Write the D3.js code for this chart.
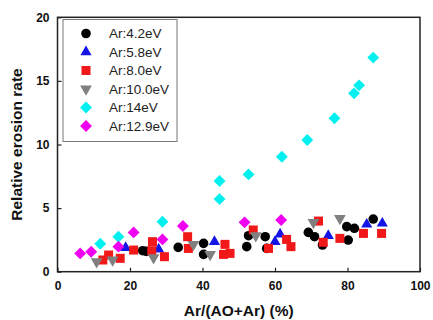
<!DOCTYPE html>
<html><head><meta charset="utf-8">
<script src="https://cdn.jsdelivr.net/npm/d3@7"></script>
<style>body{margin:0;background:#fff}svg{display:block}text{font-family:Arial,"Liberation Sans",sans-serif}</style>
</head><body><svg id="c" width="433" height="320"></svg>
<script>
const seriesNames = ["Ar:4.2eV","Ar:5.8eV","Ar:8.0eV","Ar:10.0eV","Ar:14eV","Ar:12.9eV"];
const xTicks = [0,20,40,60,80,100];
const yTicks = [0,5,10,15,20];
const s42x = [23.5,24.5,33.3,40.3,40.3,52.2,52.7,57.3,57.7,69.2,70.9,73.1,79.8,81.9,80.2,87.1];
const s42y = [1.65,1.6,1.91,2.23,1.36,1.97,2.83,2.75,1.83,3.09,2.75,2.1,3.54,3.41,2.49,4.14];
const s58x = [18.8,27.9,43.3,60.0,61.4,74.7,85.3,89.6];
const s58y = [1.89,1.76,2.36,2.36,2.94,2.83,3.72,3.8];
const s80x = [12.5,14.1,17.3,21.0,26.2,26.0,29.5,35.9,36.1,45.8,46.2,47.6,54.0,58.2,63.2,64.4,72.0,73.3,77.9,84.4,89.4];
const s80y = [0.92,1.31,1.05,1.7,2.36,1.65,1.18,2.75,1.83,1.36,2.15,1.44,3.28,1.83,2.54,1.97,3.98,2.31,2.62,3.01,3.01];
const s100x = [10.8,15.2,26.5,37.5,42.1,54.7,70.6,77.9];
const s100y = [0.79,0.92,1.1,2.15,1.36,2.83,3.88,4.19];
const s14x = [11.8,16.8,28.95,44.7,44.7,52.7,61.9,68.9,76.4,81.8,83.2,87.1];
const s14y = [2.2,2.75,3.93,7.13,5.71,7.65,9.04,10.35,12.06,14.02,14.65,16.83];
const s129x = [6.25,9.3,16.8,21.0,28.95,34.6,51.6,61.7];
const s129y = [1.44,1.57,1.97,3.09,2.54,3.59,3.88,4.06];

const colors = ["#000000","#1414e6","#f01818","#808080","#00f0f0","#f000f0"];
const allX = [s42x,s58x,s80x,s100x,s14x,s129x];
const allY = [s42y,s58y,s80y,s100y,s14y,s129y];

const svg = d3.select("#c");
const L=57.5,R=420,T=17.3,B=271.7;
const x = d3.scaleLinear().domain([0,100]).range([L,R]);
const y = d3.scaleLinear().domain([0,20]).range([B,T]);

function marker(g,i){
  if(i===0) g.append("circle").attr("r",4.8);
  else if(i===1) g.append("path").attr("d",d3.symbol(d3.symbolTriangle,54)());
  else if(i===2) g.append("rect").attr("x",-4.5).attr("y",-4.5).attr("width",9).attr("height",9);
  else if(i===3) g.append("path").attr("d",d3.symbol(d3.symbolTriangle,60)()).attr("transform","rotate(180)");
  else g.append("rect").attr("x",-4.2).attr("y",-4.2).attr("width",8.4).attr("height",8.4).attr("transform","rotate(45)");
}

// points
allX.forEach((xs,i)=>{
  const g = svg.append("g").attr("fill",colors[i]);
  xs.forEach((xv,j)=>{
    const m = g.append("g").attr("transform",`translate(${x(xv)},${y(allY[i][j])})`);
    marker(m,i);
  });
});

// frame
svg.append("rect").attr("x",L).attr("y",T).attr("width",R-L).attr("height",B-T)
  .attr("fill","none").attr("stroke","#222").attr("stroke-width",1.5);

// axes
const xa = svg.append("g").attr("transform",`translate(0,${B})`)
  .call(d3.axisBottom(x).tickValues(xTicks).tickSizeInner(-4).tickSizeOuter(0).tickPadding(10));
const ya = svg.append("g").attr("transform",`translate(${L},0)`)
  .call(d3.axisLeft(y).tickValues(yTicks).tickSizeInner(-4).tickSizeOuter(0).tickPadding(8));
[xa,ya].forEach(a=>{
  a.select(".domain").remove();
  a.selectAll("line").attr("stroke","#222").attr("stroke-width",1.2);
  a.selectAll("text").attr("font-size",12).attr("font-weight","bold").attr("fill","#111")
   .style("font-family","Arial,'Liberation Sans',sans-serif");
});

// titles
svg.append("text").attr("x",(L+R)/2).attr("y",316).attr("text-anchor","middle")
  .attr("font-size",15.5).attr("font-weight","bold").attr("fill","#111").text("Ar/(AO+Ar) (%)");
svg.append("text").attr("transform",`translate(22,${(T+B)/2}) rotate(-90)`).attr("text-anchor","middle")
  .attr("font-size",15.5).attr("font-weight","bold").attr("fill","#111").text("Relative erosion rate");

// legend
const lg = svg.append("g");
lg.append("rect").attr("x",63).attr("y",19.5).attr("width",114).attr("height",122)
  .attr("fill","#fff").attr("stroke","#777").attr("stroke-width",1);
seriesNames.forEach((n,i)=>{
  const yy = 33.5 + i*18.5;
  const m = lg.append("g").attr("fill",colors[i]).attr("transform",`translate(86,${yy})`);
  marker(m,i);
  lg.append("text").attr("x",109).attr("y",yy).attr("dy","0.36em").attr("font-size",13.5)
    .attr("fill","#222").text(n);
});
</script></body></html>
